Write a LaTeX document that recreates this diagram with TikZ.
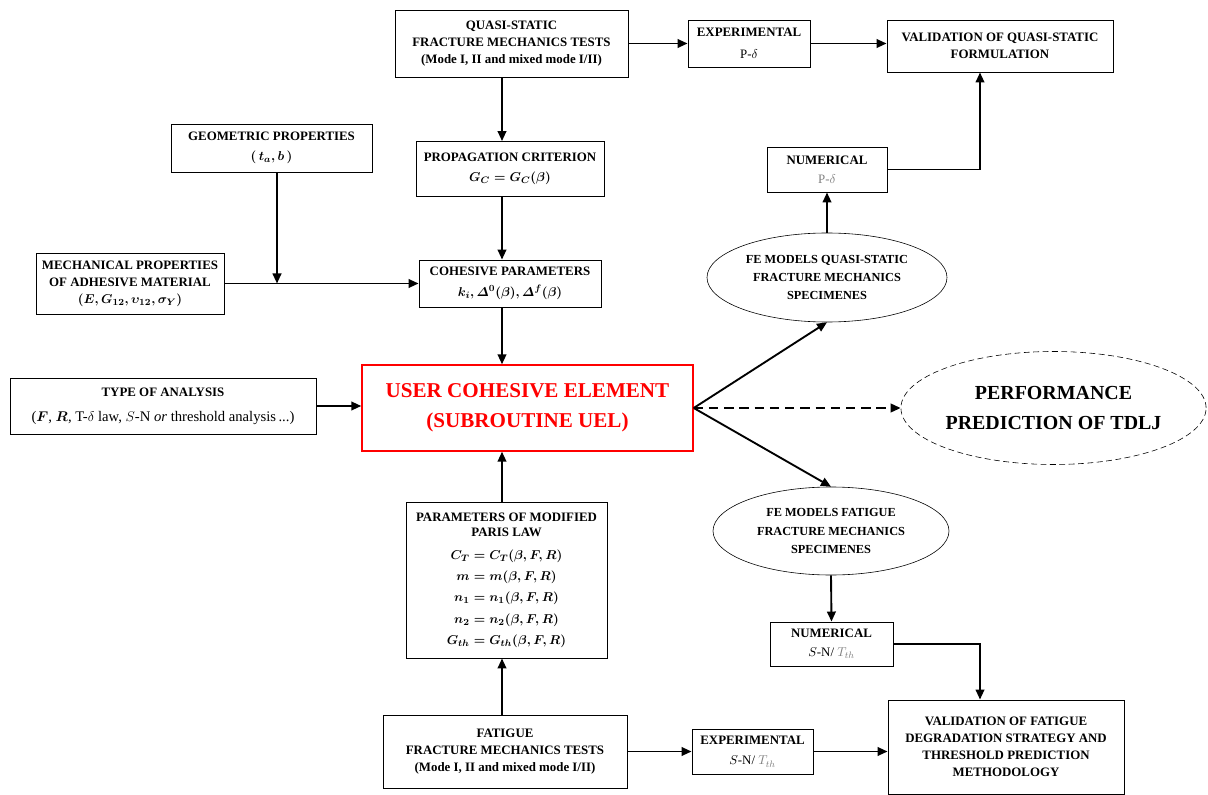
\documentclass[tikz,border=0pt]{standalone}
\usepackage{amsmath}
\usepackage{fontspec}
\setmainfont{Liberation Serif}
\usetikzlibrary{arrows.meta,shapes.geometric}
\newcommand{\bmath}[1]{{\boldmath$#1$}}
\begin{document}
\begin{tikzpicture}[x=0.03cm,y=-0.03cm,
    box/.style={draw,line width=0.8pt,align=center,inner sep=2pt,
      font=\fontsize{11}{14.5}\selectfont\bfseries},
    oval/.style={ellipse,draw,line width=0.5pt,align=center,inner sep=0pt,
      font=\fontsize{10.5}{15.5}\selectfont\bfseries},
    arr/.style={line width=1.6pt,-{Triangle[length=3mm,width=2.6mm]}}]
  \useasboundingbox (0,0) rectangle (1208,795);

  \node[box,minimum width=6.99cm,minimum height=2.01cm] (QS) at (511.5,43.5)
    {QUASI-STATIC\\FRACTURE MECHANICS TESTS\\(Mode I, II and mixed mode I/II)};
  \node[box,minimum width=3.66cm,minimum height=1.41cm] (ExpP) at (749,43.5)
    {EXPERIMENTAL\\[4pt]\mdseries P-$\delta$};
  \node[box,minimum width=6.78cm,minimum height=1.56cm] (ValQS) at (1000,46)
    {VALIDATION OF QUASI-STATIC\\FORMULATION};

  \node[box,minimum width=6.03cm,minimum height=1.44cm] (Geo) at (271.5,148)
    {GEOMETRIC PROPERTIES\\[3pt]\bmath{(\,t_a, b\,)}};
  \node[box,minimum width=5.64cm,minimum height=1.65cm] (PC) at (510,169)
    {PROPAGATION CRITERION\\[3pt]\bmath{G_C = G_C(\beta)}};
  \node[box,minimum width=3.6cm,minimum height=1.35cm] (NumP) at (827,169.5)
    {NUMERICAL\\[2pt]\mdseries\color{gray}P-$\delta$};

  \node[box,minimum width=5.64cm,minimum height=1.83cm] (Mech) at (130,283.5)
    {MECHANICAL PROPERTIES\\OF ADHESIVE MATERIAL\\\bmath{(E, G_{12}, \upsilon_{12}, \sigma_Y)}};
  \node[box,minimum width=5.46cm,minimum height=1.41cm] (Coh) at (510,283.5)
    {COHESIVE PARAMETERS\\[3pt]\bmath{k_i, \varDelta^0(\beta), \varDelta^f(\beta)}};
  \node[oval,minimum width=7.2cm,minimum height=2.67cm] (FEQS) at (827,277.5)
    {FE MODELS QUASI-STATIC\\FRACTURE MECHANICS\\SPECIMENES};

  \node[box,minimum width=9.18cm,minimum height=1.68cm] (Type) at (163,406)
    {TYPE OF ANALYSIS\\[7pt]\mdseries\fontsize{12.5}{15}\selectfont
     (\bmath{F}, \bmath{R}, T-$\delta$ law, $S$-N \textit{or} threshold analysis\,...)};
  \node[box,draw=red,text=red,line width=1.2pt,minimum width=9.93cm,minimum height=2.58cm,
    font=\fontsize{18}{26}\selectfont\bfseries] (UEL) at (527.5,408)
    {USER COHESIVE ELEMENT\\(SUBROUTINE UEL)};
  \node[oval,dash pattern=on 5pt off 3pt,minimum width=8.79cm,minimum height=3.39cm,
    font=\fontsize{17}{26}\selectfont\bfseries] (Perf) at (1053.5,408)
    {PERFORMANCE\\PREDICTION OF TDLJ};

  \node[oval,minimum width=7.08cm,minimum height=2.64cm] (FEF) at (831,531)
    {FE MODELS FATIGUE\\FRACTURE MECHANICS\\SPECIMENES};
  \node[box,minimum width=6.03cm,minimum height=4.68cm] (Paris) at (506.5,580)
    {PARAMETERS OF MODIFIED\\[-1pt]PARIS LAW\\[5pt]
     \bmath{C_T = C_T(\beta, F, R)}\\[3.5pt]\bmath{m = m(\beta, F, R)}\\[3.5pt]
     \bmath{n_1 = n_1(\beta, F, R)}\\[3.5pt]\bmath{n_2 = n_2(\beta, F, R)}\\[3.5pt]
     \bmath{G_{th} = G_{th}(\beta, F, R)}};
  \node[box,minimum width=3.69cm,minimum height=1.32cm] (NumSN) at (831.5,644)
    {NUMERICAL\\[2pt]\mdseries$S$-N/ {\color{gray}$T_{th}$}};

  \node[box,minimum width=7.32cm,minimum height=2.19cm] (Fat) at (505,751.5)
    {FATIGUE\\FRACTURE MECHANICS TESTS\\(Mode I, II and mixed mode I/II)};
  \node[box,minimum width=3.63cm,minimum height=1.35cm] (ExpSN) at (752.5,751.5)
    {EXPERIMENTAL\\[3pt]\mdseries$S$-N/ {\color{gray}$T_{th}$}};
  \node[box,minimum width=7.08cm,minimum height=2.82cm] (ValF) at (1006,747)
    {VALIDATION OF FATIGUE\\DEGRADATION STRATEGY AND\\THRESHOLD PREDICTION\\METHODOLOGY};

  \coordinate (ax) at (502,0);
  \coordinate (J) at (277,283.5);

  \draw[arr] (QS.east) -- (ExpP.west);
  \draw[arr] (ExpP.east) -- (ExpP.east -| ValQS.west);
  \draw[arr] (QS.south -| ax) -- (PC.north -| ax);
  \draw[arr] (PC.south -| ax) -- (Coh.north -| ax);
  \draw[arr] (Coh.south -| ax) -- (UEL.north -| ax);
  \draw[arr] (Geo.south -| J) -- (J);
  \draw[arr] (Mech.east) -- (Coh.west);
  \draw[arr] (Type.east) -- (Type.east -| UEL.west);
  \draw[arr] (Paris.north -| ax) -- (UEL.south -| ax);
  \draw[arr] (Fat.north -| ax) -- (Paris.south -| ax);
  \draw[arr] (Fat.east) -- (ExpSN.west);
  \draw[arr] (ExpSN.east) -- (ExpSN.east -| ValF.west);
  \draw[arr] (UEL.east) -- (FEQS.south);
  \draw[arr] (UEL.east) -- (FEF.north);
  \draw[arr,dash pattern=on 8pt off 5pt] (UEL.east) -- (Perf.west);
  \draw[arr] (FEQS.north) -- (NumP.south);
  \draw[arr] (NumP.east) -| ([xshift=-0.6cm]ValQS.south);
  \draw[arr] (FEF.south) -- (NumSN.north);
  \draw[arr] (NumSN.east) -| ([xshift=-0.78cm]ValF.north);
\end{tikzpicture}
\end{document}
